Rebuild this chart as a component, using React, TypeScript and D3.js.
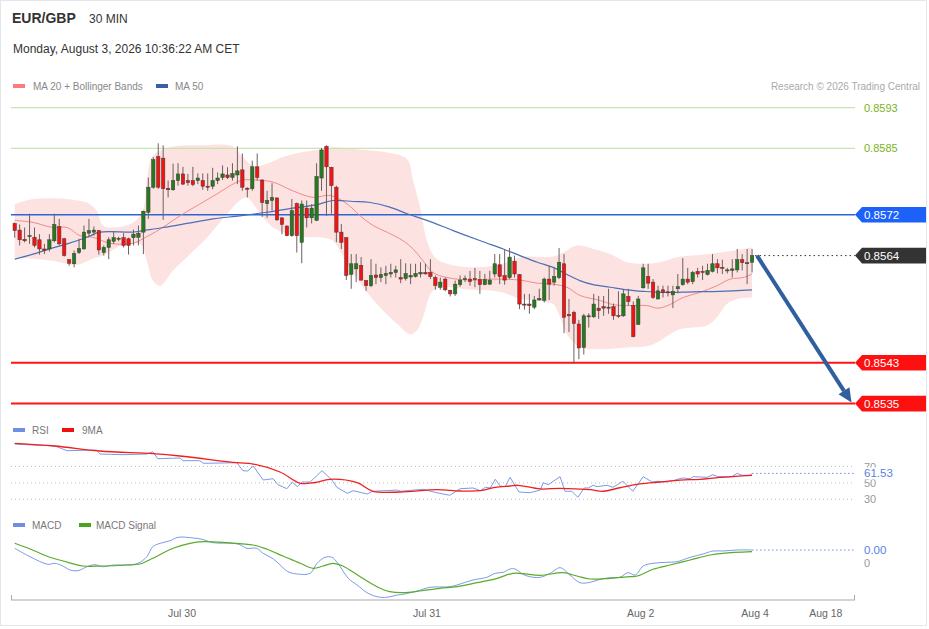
import React from "react";
import * as d3 from "d3";

const FONT = "'Liberation Sans', Arial, Helvetica, sans-serif";

// ---------- Candles (EUR/GBP 30 min) ----------
const opens = [
  0.85703, 0.8569, 0.85672, 0.85677, 0.85676, 0.85671, 0.85653, 0.85653, 0.85669, 0.85697,
  0.85673, 0.85632, 0.85624, 0.85646, 0.85653, 0.85684, 0.85686, 0.85689, 0.85646, 0.85656,
  0.85668, 0.85672, 0.85675, 0.85673, 0.85675, 0.85676, 0.85686, 0.85725, 0.85774, 0.85834,
  0.85831, 0.85772, 0.85769, 0.85787, 0.858, 0.85787, 0.85787, 0.85787, 0.85787, 0.85776,
  0.85776, 0.85787, 0.85793, 0.85798, 0.85793, 0.85798, 0.85808, 0.85772, 0.85771, 0.85814,
  0.85788, 0.85742, 0.85748, 0.85753, 0.85714, 0.85698, 0.85679, 0.85742, 0.85666, 0.85733,
  0.85714, 0.85709, 0.85792, 0.85854, 0.85813, 0.85774, 0.85686, 0.85675, 0.85603, 0.85614,
  0.85621, 0.85591, 0.85581, 0.85602, 0.85597, 0.85601, 0.85604, 0.85607, 0.85597, 0.85595,
  0.85598, 0.85599, 0.85604, 0.85607, 0.85607, 0.85597, 0.85578, 0.85594, 0.85572, 0.85565,
  0.85583, 0.85593, 0.85594, 0.85595, 0.85593, 0.85583, 0.85584, 0.85604, 0.85622, 0.85601,
  0.85597, 0.85629, 0.85603, 0.85545, 0.85545, 0.85539, 0.85553, 0.85552, 0.85594, 0.85588,
  0.85597, 0.85624, 0.85525, 0.85529, 0.85506, 0.8546, 0.8552, 0.8552, 0.85537, 0.8554,
  0.85537, 0.8554, 0.85523, 0.85522, 0.8556, 0.85542, 0.85505, 0.85577, 0.85599, 0.85588,
  0.85555, 0.85573, 0.85569, 0.85563, 0.85575, 0.85583, 0.85594, 0.85589, 0.85609, 0.85609,
  0.85603, 0.85609, 0.85624, 0.85617, 0.8561, 0.85611, 0.85612, 0.85632, 0.85626, 0.85627,
];
const highs = [
  0.85705, 0.85701, 0.85695, 0.85722, 0.85695, 0.85682, 0.85663, 0.85682, 0.85722, 0.85712,
  0.85675, 0.85633, 0.8565, 0.85673, 0.85699, 0.85712, 0.85697, 0.8569, 0.8566, 0.85676,
  0.85688, 0.85677, 0.85684, 0.85675, 0.85691, 0.85699, 0.85728, 0.85793, 0.85833, 0.8586,
  0.85856, 0.85787, 0.8582, 0.85821, 0.85814, 0.858, 0.85814, 0.85801, 0.85801, 0.85801,
  0.85812, 0.85803, 0.85817, 0.85813, 0.85821, 0.85854, 0.8584, 0.85774, 0.85826, 0.8584,
  0.8579, 0.85767, 0.85782, 0.85754, 0.85715, 0.85699, 0.85751, 0.85744, 0.85748, 0.85748,
  0.85741, 0.85821, 0.85851, 0.85856, 0.85814, 0.85777, 0.85702, 0.85676, 0.85643, 0.85643,
  0.85637, 0.85592, 0.85633, 0.85624, 0.85617, 0.8562, 0.85624, 0.8562, 0.85633, 0.85625,
  0.85624, 0.85624, 0.85627, 0.85624, 0.85633, 0.85601, 0.85597, 0.85597, 0.85573, 0.85591,
  0.85601, 0.85601, 0.8561, 0.85616, 0.8561, 0.85604, 0.8561, 0.85643, 0.85643, 0.85653,
  0.85655, 0.8564, 0.85604, 0.85565, 0.85565, 0.85561, 0.85575, 0.85597, 0.8562, 0.85617,
  0.85655, 0.85643, 0.85555, 0.85532, 0.85514, 0.85526, 0.85527, 0.85565, 0.85561, 0.85561,
  0.85575, 0.85546, 0.8557, 0.85573, 0.85575, 0.8555, 0.85561, 0.85624, 0.85624, 0.85594,
  0.85581, 0.85581, 0.85581, 0.85581, 0.85604, 0.85635, 0.85616, 0.8561, 0.85616, 0.8562,
  0.85624, 0.85643, 0.85633, 0.85632, 0.85616, 0.85633, 0.85653, 0.85643, 0.85653, 0.85653,
];
const lows = [
  0.85675, 0.8566, 0.85666, 0.85663, 0.85656, 0.85642, 0.85643, 0.85648, 0.85666, 0.8566,
  0.85638, 0.8562, 0.85617, 0.85643, 0.85652, 0.85676, 0.85679, 0.85642, 0.8564, 0.85633,
  0.85663, 0.85668, 0.85656, 0.85642, 0.8566, 0.8566, 0.85643, 0.85712, 0.85771, 0.85771,
  0.8571, 0.85754, 0.85767, 0.85777, 0.85779, 0.85777, 0.85776, 0.8578, 0.85769, 0.85767,
  0.8577, 0.8578, 0.85788, 0.8579, 0.85787, 0.8578, 0.85767, 0.85754, 0.85767, 0.85787,
  0.85716, 0.85714, 0.85728, 0.85708, 0.85682, 0.85678, 0.85677, 0.85646, 0.85625, 0.85695,
  0.85703, 0.85708, 0.85767, 0.85718, 0.85722, 0.85666, 0.85653, 0.85592, 0.85575, 0.85588,
  0.85591, 0.85571, 0.85578, 0.85584, 0.85588, 0.85584, 0.85597, 0.85597, 0.85586, 0.85591,
  0.85584, 0.85597, 0.85597, 0.85603, 0.85594, 0.85573, 0.85573, 0.8557, 0.8556, 0.85561,
  0.85579, 0.85588, 0.85581, 0.85578, 0.85565, 0.85582, 0.85583, 0.85597, 0.85584, 0.85583,
  0.85594, 0.85597, 0.85535, 0.85534, 0.85526, 0.85535, 0.85552, 0.85548, 0.85553, 0.85581,
  0.85594, 0.85488, 0.8549, 0.85428, 0.85437, 0.85446, 0.85499, 0.85518, 0.85516, 0.85522,
  0.85526, 0.85514, 0.85518, 0.8552, 0.85542, 0.8548, 0.85504, 0.85575, 0.85575, 0.85555,
  0.85554, 0.85558, 0.8556, 0.85537, 0.85566, 0.85581, 0.85584, 0.85584, 0.85597, 0.85592,
  0.85601, 0.85607, 0.85605, 0.85604, 0.85605, 0.85597, 0.85607, 0.85611, 0.85584, 0.85607,
];
const closes = [
  0.85689, 0.85671, 0.85669, 0.85679, 0.8566, 0.85653, 0.8565, 0.85671, 0.85701, 0.85663,
  0.8564, 0.85625, 0.85644, 0.85654, 0.85686, 0.85689, 0.8569, 0.85651, 0.85656, 0.85671,
  0.85675, 0.85674, 0.8566, 0.8566, 0.85682, 0.85684, 0.85727, 0.85774, 0.85828, 0.85774,
  0.85771, 0.85769, 0.85787, 0.858, 0.8578, 0.85783, 0.85779, 0.85792, 0.85776, 0.85774,
  0.85787, 0.85792, 0.858, 0.85793, 0.85801, 0.85806, 0.85774, 0.8577, 0.85814, 0.85793,
  0.85744, 0.85748, 0.85754, 0.8571, 0.85701, 0.85679, 0.85728, 0.85679, 0.85741, 0.85714,
  0.85733, 0.85795, 0.85847, 0.85814, 0.85777, 0.85686, 0.85666, 0.85601, 0.85624, 0.85624,
  0.85592, 0.85581, 0.85601, 0.85597, 0.85603, 0.85605, 0.85607, 0.85612, 0.85594, 0.85605,
  0.85601, 0.85605, 0.85607, 0.85604, 0.85599, 0.85581, 0.85588, 0.85573, 0.85565, 0.85584,
  0.85592, 0.85595, 0.85589, 0.85593, 0.85583, 0.85593, 0.85592, 0.85624, 0.85599, 0.85592,
  0.85637, 0.85604, 0.85545, 0.85543, 0.85542, 0.85553, 0.85556, 0.85594, 0.85584, 0.85599,
  0.85627, 0.85519, 0.85522, 0.85507, 0.85459, 0.85522, 0.85522, 0.85545, 0.85532, 0.85537,
  0.85539, 0.85522, 0.85521, 0.85565, 0.8555, 0.85481, 0.85555, 0.85616, 0.85586, 0.85558,
  0.85571, 0.85568, 0.85567, 0.8557, 0.85579, 0.85594, 0.85588, 0.85607, 0.85604, 0.85607,
  0.85611, 0.85624, 0.85616, 0.85615, 0.85612, 0.85614, 0.85632, 0.85626, 0.85624, 0.8564,
];

// ---------- Overlays: [candle index, price] ----------
const ma20: [number, number][] = [
  [0, 0.85709], [3.7, 0.85705], [7.7, 0.85695], [10.6, 0.85695], [13.2, 0.85679], [15.8, 0.85676],
  [19.3, 0.85664], [23.9, 0.85664], [25.9, 0.85673], [29.4, 0.85692], [33.4, 0.85718], [37.4, 0.85741],
  [40.9, 0.85761], [44.1, 0.8578], [46.1, 0.85788], [48.9, 0.85788], [52.2, 0.85784], [56.2, 0.85767],
  [60.3, 0.85754], [63.7, 0.85758], [67.2, 0.85741], [69.8, 0.85718], [72.4, 0.85699], [75.2, 0.85686],
  [78.5, 0.85669], [80.5, 0.85653], [82.5, 0.8563], [84.5, 0.85607], [87.4, 0.85597], [92, 0.85592],
  [96.7, 0.85594], [102.1, 0.85592], [105.6, 0.85586], [108.8, 0.85584], [111.6, 0.85578], [114.2, 0.85562],
  [118.3, 0.85552], [120.9, 0.85544], [123.7, 0.85542], [127.8, 0.85542], [130, 0.85537], [132.4, 0.85544],
  [135.1, 0.85558], [138.5, 0.85568], [141.9, 0.85581], [144.6, 0.85594], [147.2, 0.85597], [149, 0.85604],
];
const bbUpper: [number, number][] = [
  [0, 0.85741], [3.7, 0.85751], [10.6, 0.85751], [12.6, 0.85748], [14.6, 0.85744], [16.6, 0.85728],
  [17.8, 0.85699], [19.9, 0.85695], [23.9, 0.85705], [25.9, 0.85728], [26.7, 0.85787], [27.7, 0.85833],
  [29.4, 0.85846], [32, 0.85854], [37.4, 0.85856], [44.1, 0.85854], [46.1, 0.85833], [48.2, 0.85816],
  [51, 0.8582], [54.2, 0.85833], [57.7, 0.85842], [61.1, 0.85847], [64.3, 0.85852], [68.4, 0.85849],
  [75.2, 0.85842], [79.3, 0.85829], [80.5, 0.85787], [81.9, 0.85735], [83.3, 0.85669], [84.9, 0.85637],
  [87.4, 0.85624], [92, 0.85617], [96.7, 0.8562], [99.5, 0.85627], [102.1, 0.85637], [108.8, 0.85638],
  [110.8, 0.85646], [113.6, 0.8566], [116.9, 0.85653], [120.3, 0.85643], [123.7, 0.85627], [127, 0.85624],
  [130.4, 0.85627], [133.8, 0.85637], [137.1, 0.8564], [140.5, 0.85643], [143.9, 0.85648], [147.2, 0.85653],
  [149, 0.85656],
];
const bbLower: [number, number][] = [
  [0, 0.85636], [3.7, 0.85634], [7.7, 0.8563], [10.6, 0.85624], [12.6, 0.85622], [15.8, 0.85634],
  [17.8, 0.8564], [21.3, 0.85658], [25.3, 0.85663], [26.7, 0.8563], [27.9, 0.85591], [29.4, 0.85581],
  [32, 0.85611], [34.8, 0.85637], [38.9, 0.85676], [42.9, 0.85722], [45.5, 0.85748], [46.9, 0.85754],
  [49.6, 0.85722], [52.2, 0.85695], [55.6, 0.85682], [59.1, 0.85676], [61.7, 0.85676], [64.3, 0.85669],
  [67.2, 0.85624], [70.4, 0.85578], [73.8, 0.85539], [77.3, 0.85506], [79.9, 0.85486], [81.3, 0.85493],
  [82.5, 0.85519], [84.5, 0.85571], [87.4, 0.85578], [92, 0.85573], [96.7, 0.85571], [99.5, 0.85565],
  [102.1, 0.85555], [105.6, 0.85552], [108.8, 0.85545], [110.2, 0.85519], [111.6, 0.85486], [114.2, 0.8546],
  [118.3, 0.85457], [123.7, 0.8546], [128.4, 0.85464], [130.4, 0.85473], [132.4, 0.85486], [134.5, 0.85496],
  [137.1, 0.85499], [139.9, 0.85503], [141.9, 0.85519], [143.9, 0.85545], [146, 0.85555], [149, 0.85558],
];
const ma50: [number, number][] = [
  [0, 0.85633], [3.7, 0.85643], [7.7, 0.85655], [10.6, 0.85663], [14.6, 0.85676], [17.2, 0.85686],
  [23.9, 0.85686], [25.9, 0.85689], [30, 0.85695], [34.8, 0.85703], [40.1, 0.85712], [45.5, 0.85718],
  [51, 0.85725], [56.2, 0.85733], [61.1, 0.8574], [64.3, 0.85748], [68.4, 0.85746], [71.8, 0.85744],
  [75.8, 0.85735], [79.3, 0.85722], [83.3, 0.85709], [88.6, 0.85689], [94.1, 0.85669], [98.7, 0.85653],
  [102.1, 0.8564], [105.6, 0.85627], [108.8, 0.85617], [111.6, 0.85603], [114.2, 0.85591], [116.9, 0.85583],
  [120.3, 0.85578], [123.7, 0.85573], [127, 0.8557], [130.4, 0.85568], [137.1, 0.85569], [142.5, 0.8557],
  [149, 0.85573],
];

// ---------- Key levels ----------
const resistanceLevels = [0.8593, 0.8585];
const pivotLevel = 0.8572;
const supportLevels = [0.8543, 0.8535];
const arrowFrom: [number, number] = [150, 0.8564];
const arrowTo: [number, number] = [169.1, 0.85352];

// ---------- RSI panel: [index, value] ----------
const rsi: [number, number][] = [
  [0, 97.4], [8.1, 95], [10.6, 89.3], [16.6, 90.1], [17.2, 85.2], [21.9, 84.4], [26.7, 85.2], [27.9, 88],
  [28.9, 79.5], [33.4, 80.4], [34, 77.1], [37.4, 77.1], [38.1, 73.9], [44.9, 74.6], [46.1, 64.9], [47.1, 64.5],
  [48.2, 70.6], [50.2, 53.5], [52.2, 55.1], [53.2, 47.8], [55, 42.9], [56.1, 51.1], [57.1, 45.4], [58.1, 51.1],
  [59.7, 51.1], [62.1, 64.9], [64.1, 53.5], [65.1, 44.6], [67.2, 37.3], [68.4, 40.5], [71.2, 36.5], [72.4, 39.8],
  [77.3, 41.3], [77.9, 39.8], [82.5, 42.2], [85.3, 38], [87.9, 34.9], [90, 42.9], [92.6, 43.8], [94.1, 40.5],
  [95.1, 44.6], [96.1, 43.8], [97.1, 54.4], [98.1, 46.2], [99.1, 45.4], [100.1, 56.8], [101.9, 38.9], [104.1, 38],
  [106.2, 41.3], [106.8, 50.2], [107.8, 47.8], [110.2, 57.6], [111.2, 39.8], [112.6, 39.8], [113.8, 32.4], [115.1, 43.8],
  [115.9, 43.8], [116.9, 47.1], [117.7, 45.4], [119.7, 47.1], [120.9, 44.6], [122.9, 52], [124.9, 39.8], [127, 57.6],
  [128.8, 51.1], [129.8, 52], [131.8, 51.1], [133, 52.7], [134.9, 56], [136.5, 55.1], [137.1, 57.6], [139.9, 56.8],
  [141.1, 60], [142.1, 57.6], [144.9, 57.6], [146, 61.7], [147, 59.3], [148.6, 59.3], [149, 61.53],
];
const rsiMa: [number, number][] = [
  [0, 98.3], [8.1, 95], [17.2, 88.9], [27.9, 85.6], [33.4, 82.8], [44.9, 74.6], [48.2, 73], [53.6, 63.3],
  [57.7, 49.5], [60.7, 50.5], [63.7, 54.4], [69.2, 50.2], [72.4, 39.8], [77.9, 38.9], [85.3, 41.7], [90, 40.1],
  [94.1, 40.5], [97.1, 44.6], [100.1, 46.2], [101.7, 47.1], [106.2, 42.6], [110.2, 43.4], [116.3, 41.7], [118.9, 39.8],
  [122.3, 44.1], [126.4, 48.7], [130.4, 51.1], [134.5, 53.5], [138.5, 54.4], [142.5, 56.8], [149, 59.3],
];
const rsiTicks = [70, 50, 30];

// ---------- MACD panel: [index, value] ----------
const macd: [number, number][] = [
  [0, 0.000147], [3.1, 0.000063], [6.7, -0.000013], [8.1, -0.000003], [9.6, -0.000027], [11.2, -0.00007],
  [12.8, -0.000077], [14.6, -0.000037], [16.2, -0.000017], [17.8, -0.000037], [19.9, -0.00002], [22.7, -0.00002],
  [24.9, -0.000003], [26.7, 0.000063], [27.9, 0.000163], [29.4, 0.000197], [31.4, 0.000223], [33, 0.000257],
  [36.1, 0.00025], [37.9, 0.000237], [40.1, 0.000203], [44.1, 0.000197], [45.5, 0.000183], [46.9, 0.000147],
  [48.9, 0.000147], [50.2, 0.000097], [52.2, 0.000043], [54, -0.000037], [55.2, -0.000087], [57.1, -0.00011],
  [59.7, -0.000103], [61.1, -0.000003], [62.7, 0.000057], [64.1, 0.000057], [65.3, -0.000003], [67.4, -0.000153],
  [69.2, -0.00022], [71.2, -0.000297], [73.2, -0.000337], [75.2, -0.000343], [77.3, -0.00032], [78.5, -0.000313],
  [81.3, -0.00028], [83.9, -0.000243], [87.9, -0.000237], [90, -0.00021], [92.6, -0.00017], [95.4, -0.000143],
  [97.1, -0.000103], [98.7, -0.000093], [100.1, -0.00006], [101.1, -0.00006], [102.7, -0.000113], [104.1, -0.000137],
  [106.2, -0.000143], [108.2, -0.000103], [110.2, -0.000047], [112.2, -0.00012], [114.2, -0.000197], [116.3, -0.000193],
  [118.3, -0.000163], [120.3, -0.000147], [122.3, -0.000143], [123.9, -0.000097], [125.4, -0.00012], [127, -0.00003],
  [129, -0.000003], [131.8, 0.000007], [133.8, 0.000013], [136.5, 0.000057], [139.1, 0.00009], [141.1, 0.00012],
  [143.1, 0.00012], [146, 0.00013], [149, 0.00013],
];
const macdSignal: [number, number][] = [
  [0, 0.000197], [3.1, 0.00014], [7.1, 0.000057], [9.8, 0.00002], [13.8, -0.00003], [17.8, -0.00003],
  [22.7, -0.00002], [25.3, -0.00001], [27.9, 0.000047], [32, 0.000147], [35.4, 0.000197], [38.1, 0.000213],
  [42.9, 0.000203], [48.2, 0.00018], [51, 0.000137], [54.2, 0.00007], [57.7, -0.000003], [60.3, -0.000053],
  [62.3, -0.00003], [64.3, -0.000003], [66.3, -0.00003], [69.8, -0.000137], [73.2, -0.000237], [75.8, -0.000287],
  [78.5, -0.000297], [81.9, -0.00028], [85.9, -0.000253], [89.4, -0.000237], [93.4, -0.000197], [97.5, -0.000153],
  [100.7, -0.000103], [102.7, -0.000107], [106.2, -0.000123], [110.8, -0.000097], [113.6, -0.00013], [116.3, -0.00016],
  [120.3, -0.000153], [124.3, -0.000137], [125.8, -0.00013], [129, -0.000063], [132.4, -0.00002], [136.5, 0.00003],
  [140.5, 0.00008], [143.1, 0.000097], [149, 0.000113],
];

// ---------- Time axis ----------
const xTickLabels = ["Jul 30", "Jul 31", "Aug 2", "Aug 4", "Aug 18"];
const xTickIndex = [33.8, 83.3, 126.5, 149.6, 163.9];

export default function App() {
  const W = 929;
  const H = 629;
  const plotL = 11;
  const plotR = 855;

  const x = d3.scaleLinear().domain([-0.75, 169.8]).range([plotL, plotR]);
  const y = d3.scaleLinear().domain([0.8535, 0.8593]).range([403.6, 107.6]);
  const yRsi = d3.scaleLinear().domain([30, 70]).range([499.3, 466.5]);
  const yMacd = d3.scaleLinear().domain([0, 0.0001]).range([563, 553]);

  const smoothPrice = d3
    .line<[number, number]>()
    .x((d) => x(d[0]))
    .y((d) => y(d[1]))
    .curve(d3.curveCatmullRom.alpha(0.5));
  const rsiLine = d3.line<[number, number]>().x((d) => x(d[0])).y((d) => yRsi(d[1]));
  const rsiSmooth = d3
    .line<[number, number]>()
    .x((d) => x(d[0]))
    .y((d) => yRsi(d[1]))
    .curve(d3.curveCatmullRom.alpha(0.5));
  const macdLine = d3
    .line<[number, number]>()
    .x((d) => x(d[0]))
    .y((d) => yMacd(d[1]))
    .curve(d3.curveCatmullRom.alpha(0.5));

  const upPath = smoothPrice(bbUpper) || "";
  const loPath = smoothPrice([...bbLower].reverse()) || "";
  const bandPath = upPath + "L" + loPath.slice(1) + "Z";

  const bodyW = 3.4;
  const lastIdx = closes.length - 1;
  const lastPrice = closes[lastIdx];
  const lastRsi = rsi[rsi.length - 1];
  const lastMacd = macd[macd.length - 1];

  const labelBox = (yy: number, fill: string, text: string, key: string) => {
    const x0 = plotR;
    const x1 = 926;
    const h = 7.8;
    const d = `M${x0},${yy} L${x0 + 7},${yy - h} L${x1},${yy - h} L${x1},${yy + h} L${x0 + 7},${yy + h} Z`;
    return (
      <g key={key}>
        <path d={d} fill={fill} />
        <text x={864} y={yy + 4} fill="#fff" fontSize={11.5}>
          {text}
        </text>
      </g>
    );
  };

  // arrow geometry
  const ax0 = x(arrowFrom[0]);
  const ay0 = y(arrowFrom[1]);
  const ax1 = x(arrowTo[0]);
  const ay1 = y(arrowTo[1]);
  const ang = Math.atan2(ay1 - ay0, ax1 - ax0);
  const headL = 14;
  const headW = 6.5;
  const bx = ax1 - headL * Math.cos(ang);
  const by = ay1 - headL * Math.sin(ang);
  const px = -Math.sin(ang);
  const py = Math.cos(ang);
  const headPts = `${ax1},${ay1} ${bx + headW * px},${by + headW * py} ${bx - headW * px},${by - headW * py}`;

  return (
    <div style={{ position: "absolute", left: 0, top: 0 }}>
      <svg width={W} height={H} style={{ display: "block", fontFamily: FONT }}>
        <rect x={0} y={0} width={W} height={H} fill="#fff" />
        <rect x={0.5} y={0.5} width={926} height={625} fill="none" stroke="#e3e7eb" />

        {/* Header */}
        <text x={12} y={23} fontSize={14} fontWeight="bold" fill="#333">
          EUR/GBP
        </text>
        <text x={89} y={23} fontSize={12} fill="#333">
          30 MIN
        </text>
        <text x={13} y={53} fontSize={12} fill="#333">
          Monday, August 3, 2026 10:36:22 AM CET
        </text>

        {/* Legend */}
        <rect x={13} y={84} width={12} height={4} fill="#ff7b7b" />
        <text x={33} y={90} fontSize={10} fill="#888">
          MA 20 + Bollinger Bands
        </text>
        <rect x={156} y={84} width={12} height={4} fill="#3b5ea6" />
        <text x={175} y={90} fontSize={10} fill="#888">
          MA 50
        </text>
        <text x={920} y={90} fontSize={10} fill="#aaa" textAnchor="end">
          Research © 2026 Trading Central
        </text>

        {/* Bollinger band */}
        <path d={bandPath} fill="#fde2e2" />

        {/* Level lines */}
        {resistanceLevels.map((lv) => (
          <line key={"r" + lv} x1={plotL} x2={plotR} y1={y(lv)} y2={y(lv)} stroke="#c8e4b4" strokeWidth={1.3} />
        ))}
        <line x1={plotL} x2={plotR} y1={y(pivotLevel)} y2={y(pivotLevel)} stroke="#2c66d6" strokeWidth={1.3} />
        {supportLevels.map((lv) => (
          <line key={"s" + lv} x1={plotL} x2={plotR} y1={y(lv)} y2={y(lv)} stroke="#ff1414" strokeWidth={2} />
        ))}

        {/* Moving averages */}
        <path d={smoothPrice(ma20) || ""} fill="none" stroke="#f28a8a" strokeWidth={1} />
        <path d={smoothPrice(ma50) || ""} fill="none" stroke="#4a70b8" strokeWidth={1.2} />

        {/* Candles */}
        {opens.map((o, i) => {
          const c = closes[i];
          const up = c >= o;
          const cx = x(i);
          const top = y(Math.max(o, c));
          const bot = y(Math.min(o, c));
          const h = Math.max(1, bot - top);
          return (
            <g key={"c" + i}>
              <line x1={cx} x2={cx} y1={y(highs[i])} y2={y(lows[i])} stroke="#6e6060" strokeWidth={1} />
              <rect
                x={cx - bodyW / 2}
                y={top}
                width={bodyW}
                height={h}
                fill={up ? "#1f7d1f" : "#f01414"}
                stroke="#4a3535"
                strokeWidth={0.5}
              />
            </g>
          );
        })}

        {/* Last price dotted line */}
        <line
          x1={x(lastIdx) + 3}
          x2={plotR}
          y1={y(lastPrice)}
          y2={y(lastPrice)}
          stroke="#333"
          strokeDasharray="1.5,3"
          strokeWidth={1}
        />

        {/* Arrow */}
        <line x1={ax0} y1={ay0} x2={bx} y2={by} stroke="#2f5f9f" strokeWidth={4} />
        <polygon points={headPts} fill="#2f5f9f" />

        {/* Right labels */}
        {resistanceLevels.map((lv) => (
          <text key={"rt" + lv} x={864} y={y(lv) + 4} fontSize={11} fill="#79b21c">
            {lv.toFixed(4)}
          </text>
        ))}
        {labelBox(y(pivotLevel), "#1c62f8", pivotLevel.toFixed(4), "pv")}
        {labelBox(y(lastPrice), "#333333", lastPrice.toFixed(4), "lp")}
        {supportLevels.map((lv) => labelBox(y(lv), "#ff1010", lv.toFixed(4), "sl" + lv))}

        {/* RSI panel */}
        <rect x={13} y={428} width={12} height={4} fill="#6f8fe3" />
        <text x={32} y={434} fontSize={10} fill="#777">
          RSI
        </text>
        <rect x={62} y={428} width={12} height={4} fill="#f01010" />
        <text x={82} y={434} fontSize={10} fill="#777">
          9MA
        </text>
        {rsiTicks.map((t) => (
          <g key={"rt" + t}>
            <line x1={plotL} x2={plotR} y1={yRsi(t)} y2={yRsi(t)} stroke="#bbb" strokeDasharray="1,3" />
            <text x={864} y={yRsi(t) + 4} fontSize={11} fill="#999">
              {t}
            </text>
          </g>
        ))}
        <path d={rsiLine(rsi) || ""} fill="none" stroke="#7b9be6" strokeWidth={1} />
        <path d={rsiSmooth(rsiMa) || ""} fill="none" stroke="#ef1f1f" strokeWidth={1.3} />
        <line
          x1={x(lastRsi[0])}
          x2={plotR}
          y1={yRsi(lastRsi[1])}
          y2={yRsi(lastRsi[1])}
          stroke="#6f8fe3"
          strokeDasharray="1.5,2.5"
        />
        <rect x={861} y={yRsi(lastRsi[1]) - 6} width={34} height={12} fill="#fff" />
        <text x={864} y={yRsi(lastRsi[1]) + 4} fontSize={11.5} fill="#5a7fe0">
          {lastRsi[1].toFixed(2)}
        </text>

        {/* MACD panel */}
        <rect x={13} y={523} width={12} height={4} fill="#6f8fe3" />
        <text x={32} y={529} fontSize={10} fill="#777">
          MACD
        </text>
        <rect x={79} y={523} width={12} height={4} fill="#4aa51e" />
        <text x={96} y={529} fontSize={10} fill="#777">
          MACD Signal
        </text>
        <path d={macdLine(macd) || ""} fill="none" stroke="#7b9be6" strokeWidth={1} />
        <path d={macdLine(macdSignal) || ""} fill="none" stroke="#5aab2a" strokeWidth={1.2} />
        <line
          x1={x(lastMacd[0])}
          x2={plotR}
          y1={yMacd(lastMacd[1])}
          y2={yMacd(lastMacd[1])}
          stroke="#6f8fe3"
          strokeDasharray="1.5,2.5"
        />
        <text x={864} y={yMacd(lastMacd[1]) + 4} fontSize={11.5} fill="#5a7fe0">
          {lastMacd[1].toFixed(2)}
        </text>
        <text x={864} y={yMacd(0) + 4} fontSize={11} fill="#999">
          0
        </text>

        {/* Time axis */}
        <line x1={plotL} x2={plotR} y1={600} y2={600} stroke="#aaa" strokeWidth={1.2} />
        <line x1={plotL + 0.5} x2={plotL + 0.5} y1={595} y2={600} stroke="#aaa" />
        <line x1={plotR - 0.5} x2={plotR - 0.5} y1={595} y2={600} stroke="#aaa" />
        {xTickLabels.map((lab, k) => (
          <text key={lab} x={x(xTickIndex[k])} y={617} fontSize={10.5} fill="#666" textAnchor="middle">
            {lab}
          </text>
        ))}
      </svg>
    </div>
  );
}
